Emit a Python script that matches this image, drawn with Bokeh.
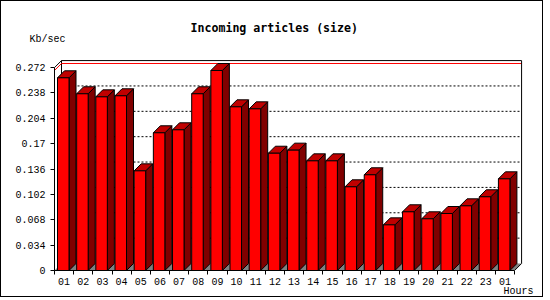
from bokeh.plotting import figure
from bokeh.models import Range1d, FixedTicker, Title
from bokeh.embed import file_html
from bokeh.resources import INLINE

# ---- data ----
hours = ["01", "02", "03", "04", "05", "06", "07", "08", "09", "10", "11", "12",
         "13", "14", "15", "16", "17", "18", "19", "20", "21", "22", "23", "01"]
kb_per_sec = [0.2583, 0.2369, 0.2328, 0.2342, 0.1336, 0.1846, 0.1886, 0.2369,
              0.2681, 0.2194, 0.2167, 0.1572, 0.1613, 0.1470, 0.1470, 0.1122,
              0.1283, 0.0612, 0.0787, 0.0693, 0.0764, 0.0867, 0.0988, 0.1229]
y_ticks = [0, 0.034, 0.068, 0.102, 0.136, 0.17, 0.204, 0.238, 0.272]
y_tick_labels = ["0", "0.034", "0.068", "0.102", "0.136", "0.17", "0.204", "0.238", "0.272"]
title_text = "Incoming articles (size)"
y_unit = "Kb/sec"
x_unit = "Hours"

# ---- layout (pixels, content area inside a 1px border) ----
W, H = 543, 297
FL, FR, FT, FB = 53, 522, 57, 269
PXX = 19.17          # px per hour slot
PXY = 746.0          # px per unit of value
DEPTH = 7            # 3d depth in px

ddx = DEPTH / PXX
ddy = DEPTH / PXY
n = len(kb_per_sec)
xmin, xmax = 0.5, n + 0.5
ytop = y_ticks[-1]

p = figure(width=W, height=H,
           x_range=Range1d(0.5, 0.5 + (FR - FL) / PXX),
           y_range=Range1d(0, (FB - FT) / PXY),
           output_backend="svg", toolbar_location=None,
           min_border_left=FL, min_border_right=W - FR,
           min_border_top=FT, min_border_bottom=H - FB,
           styles={"border": "1px solid black"})
p.outline_line_color = None
p.xgrid.visible = False
p.ygrid.visible = False
p.background_fill_color = "white"
p.border_fill_color = "white"

# axes
ya = p.yaxis[0]
ya.ticker = FixedTicker(ticks=y_ticks, minor_ticks=[])
ya.major_label_overrides = dict(zip(y_ticks, y_tick_labels))
ya.bounds = (0, ytop)
ya.major_tick_out = 4
ya.major_tick_in = 0
ya.minor_tick_out = 0
ya.minor_tick_in = 0
ya.major_label_standoff = 5
ya.axis_line_color = "black"
ya.major_tick_line_color = "black"
ya.major_label_text_font = "Liberation Mono"
ya.major_label_text_font_size = "10px"
ya.major_label_text_color = "black"

xa = p.xaxis[0]
xa.ticker = FixedTicker(ticks=list(range(1, n + 1)),
                        minor_ticks=[k + 0.5 for k in range(0, n + 1)])
xa.major_label_overrides = {i + 1: h for i, h in enumerate(hours)}
xa.bounds = (xmin, xmax)
xa.major_tick_out = 0
xa.major_tick_in = 0
xa.minor_tick_out = 4
xa.minor_tick_in = 0
xa.minor_tick_line_color = "black"
xa.major_label_standoff = 3
xa.axis_line_color = "black"
xa.major_label_text_font = "Liberation Mono"
xa.major_label_text_font_size = "10px"
xa.major_label_text_color = "black"

# floor
p.patch([xmin, xmin + ddx, xmax + ddx, xmax], [0, ddy, ddy, 0],
        fill_color="#808080", line_color=None)

# back wall: grid lines (dotted), left edge, max line
gx = [[xmin + ddx, xmax + ddx] for t in y_ticks[1:-1]]
gy = [[t + ddy, t + ddy] for t in y_ticks[1:-1]]
p.multi_line(gx, gy, line_color="black", line_dash="2 2", line_width=1)
p.line([xmin + ddx, xmin + ddx], [ddy, ytop + ddy], line_color="black")
vmax = max(kb_per_sec)
p.line([xmin, xmin + ddx, xmax + ddx], [vmax, vmax + ddy, vmax + ddy], line_color="#FF0000")

# bars
lefts = [k + 1 - 0.5 + 3 / PXX for k in range(n)]
rights = [l + 11.5 / PXX for l in lefts]
side_xs = [[r, r + ddx, r + ddx, r] for r in rights]
side_ys = [[0, ddy, v + ddy, v] for v in kb_per_sec]
top_xs = [[l, l + ddx, r + ddx, r] for l, r in zip(lefts, rights)]
top_ys = [[v, v + ddy, v + ddy, v] for v in kb_per_sec]
p.patches(side_xs, side_ys, fill_color="#800000", line_color="black", line_width=1)
p.patches(top_xs, top_ys, fill_color="#C00000", line_color="black", line_width=1)
p.quad(left=lefts, right=rights, bottom=0, top=kb_per_sec,
       fill_color="#FF0000", line_color="black", line_width=1)

# frame of the 3d box
p.line([xmin, xmin + ddx, xmax + ddx, xmax + ddx, xmax],
       [ytop, ytop + ddy, ytop + ddy, ddy, 0], line_color="black")

# texts (titles in side panels); a blank spacer keeps the unit label high
t_space = Title(text=" ", align="left", standoff=1,
                text_font="Liberation Mono", text_font_size="10px")
t_unit = Title(text=y_unit, align="left", offset=-25, standoff=0,
               text_font="Liberation Mono", text_font_size="10px",
               text_font_style="normal", text_color="black")
t_main = Title(text=title_text, align="left", offset=136, standoff=-6,
               text_font="DejaVu Sans Mono", text_font_size="11.6px",
               text_font_style="bold", text_color="black")
t_hours = Title(text=x_unit, align="right", offset=-10, standoff=-8,
                text_font="Liberation Mono", text_font_size="10px",
                text_font_style="normal", text_color="black")
p.add_layout(t_space, "above")
p.add_layout(t_unit, "above")
p.add_layout(t_main, "above")
p.add_layout(t_hours, "below")

open("out.html", "w").write(file_html(p, INLINE))
